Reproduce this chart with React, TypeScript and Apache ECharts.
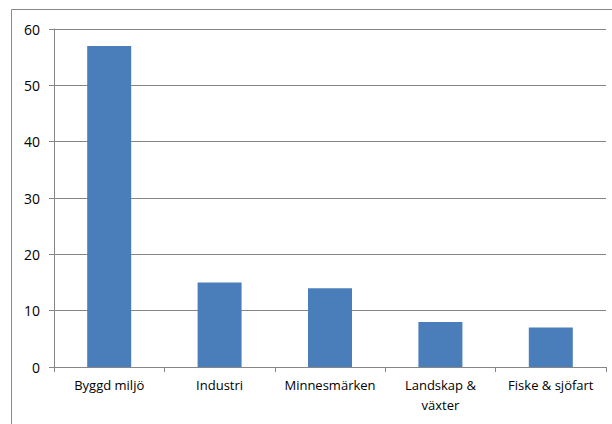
import React, { useEffect, useRef } from "react";
import * as echarts from "echarts";

const categories = ["Byggd miljö", "Industri", "Minnesmärken", "Landskap & växter", "Fiske & sjöfart"];
const values = [57, 15, 14, 8, 7];

export default function App() {
  const ref = useRef<HTMLDivElement>(null);
  useEffect(() => {
    document.body.style.margin = "0";
    const chart = echarts.init(ref.current!, null, { renderer: "svg" });
    chart.setOption({
      animation: false,
      textStyle: { fontFamily: "Open Sans" },
      graphic: [
        {
          type: "rect",
          shape: { x: 11.5, y: 9.5, width: 640, height: 440 },
          style: { fill: "none", stroke: "#8a8a8a", lineWidth: 1 },
          silent: true,
        },
      ],
      grid: { left: 54, right: 6, top: 29, bottom: 57 },
      xAxis: {
        type: "category",
        data: categories,
        axisLine: { lineStyle: { color: "#868686" } },
        axisTick: { show: true, length: 5, alignWithLabel: false, lineStyle: { color: "#868686" } },
        axisLabel: {
          color: "#000",
          fontSize: 13,
          margin: 8,
          lineHeight: 20,
          interval: 0,
          formatter: (v: string) => (v.length > 15 ? v.replace(" & ", " &\n") : v),
        },
      },
      yAxis: {
        type: "value",
        min: 0,
        max: 60,
        interval: 10,
        axisLine: { show: true, lineStyle: { color: "#868686" } },
        axisTick: { show: true, length: 5, lineStyle: { color: "#868686" } },
        axisLabel: { color: "#000", fontSize: 14, margin: 14 },
        splitLine: { lineStyle: { color: "#868686" } },
      },
      series: [
        {
          type: "bar",
          data: values,
          barWidth: 44,
          itemStyle: { color: "#4A7EBB" },
        },
      ],
    });
    return () => chart.dispose();
  }, []);
  return <div ref={ref} style={{ position: "absolute", left: 0, top: 0, width: 612, height: 424 }} />;
}
